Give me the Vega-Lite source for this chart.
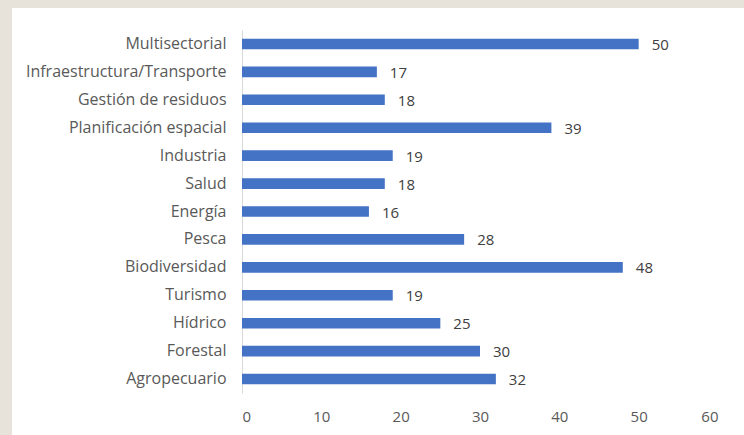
{
  "$schema": "https://vega.github.io/schema/vega-lite/v6.json",
  "autosize": "none",
  "width": 732,
  "height": 427,
  "padding": {"left": 12, "top": 8, "right": 0, "bottom": 0},
  "background": "#e7e3da",
  "view": {"fill": "white", "stroke": null},
  "data": {"values": [
    {"sector": "Multisectorial", "value": 50},
    {"sector": "Infraestructura/Transporte", "value": 17},
    {"sector": "Gestión de residuos", "value": 18},
    {"sector": "Planificación espacial", "value": 39},
    {"sector": "Industria", "value": 19},
    {"sector": "Salud", "value": 18},
    {"sector": "Energía", "value": 16},
    {"sector": "Pesca", "value": 28},
    {"sector": "Biodiversidad", "value": 48},
    {"sector": "Turismo", "value": 19},
    {"sector": "Hídrico", "value": 25},
    {"sector": "Forestal", "value": 30},
    {"sector": "Agropecuario", "value": 32}
  ]},
  "encoding": {
    "y": {
      "field": "sector", "type": "nominal", "sort": null,
      "scale": {"range": [22, 385], "paddingInner": 0.62, "paddingOuter": 0.31},
      "axis": {
        "title": null, "offset": -230, "ticks": false, "labelPadding": 16,
        "domainColor": "#d9d9d9", "labelFont": "Open Sans", "labelFontSize": 16,
        "labelColor": "#595959", "labelLimit": 300
      }
    },
    "x": {
      "field": "value", "type": "quantitative",
      "scale": {"domain": [0, 60], "range": [230, 706], "nice": false},
      "axis": {
        "title": null, "values": [0, 10, 20, 30, 40, 50, 60], "grid": false,
        "domain": false, "ticks": false, "offset": -28, "labelPadding": 2,
        "labelFont": "Open Sans", "labelFontSize": 15, "labelColor": "#595959",
        "labelBaseline": "top"
      }
    }
  },
  "layer": [
    {"mark": {"type": "bar", "color": "#4472c4"}},
    {
      "mark": {"type": "text", "align": "left", "dx": 13, "dy": 1, "font": "Open Sans", "fontSize": 15, "color": "#404040"},
      "encoding": {"text": {"field": "value", "type": "quantitative"}}
    }
  ]
}
